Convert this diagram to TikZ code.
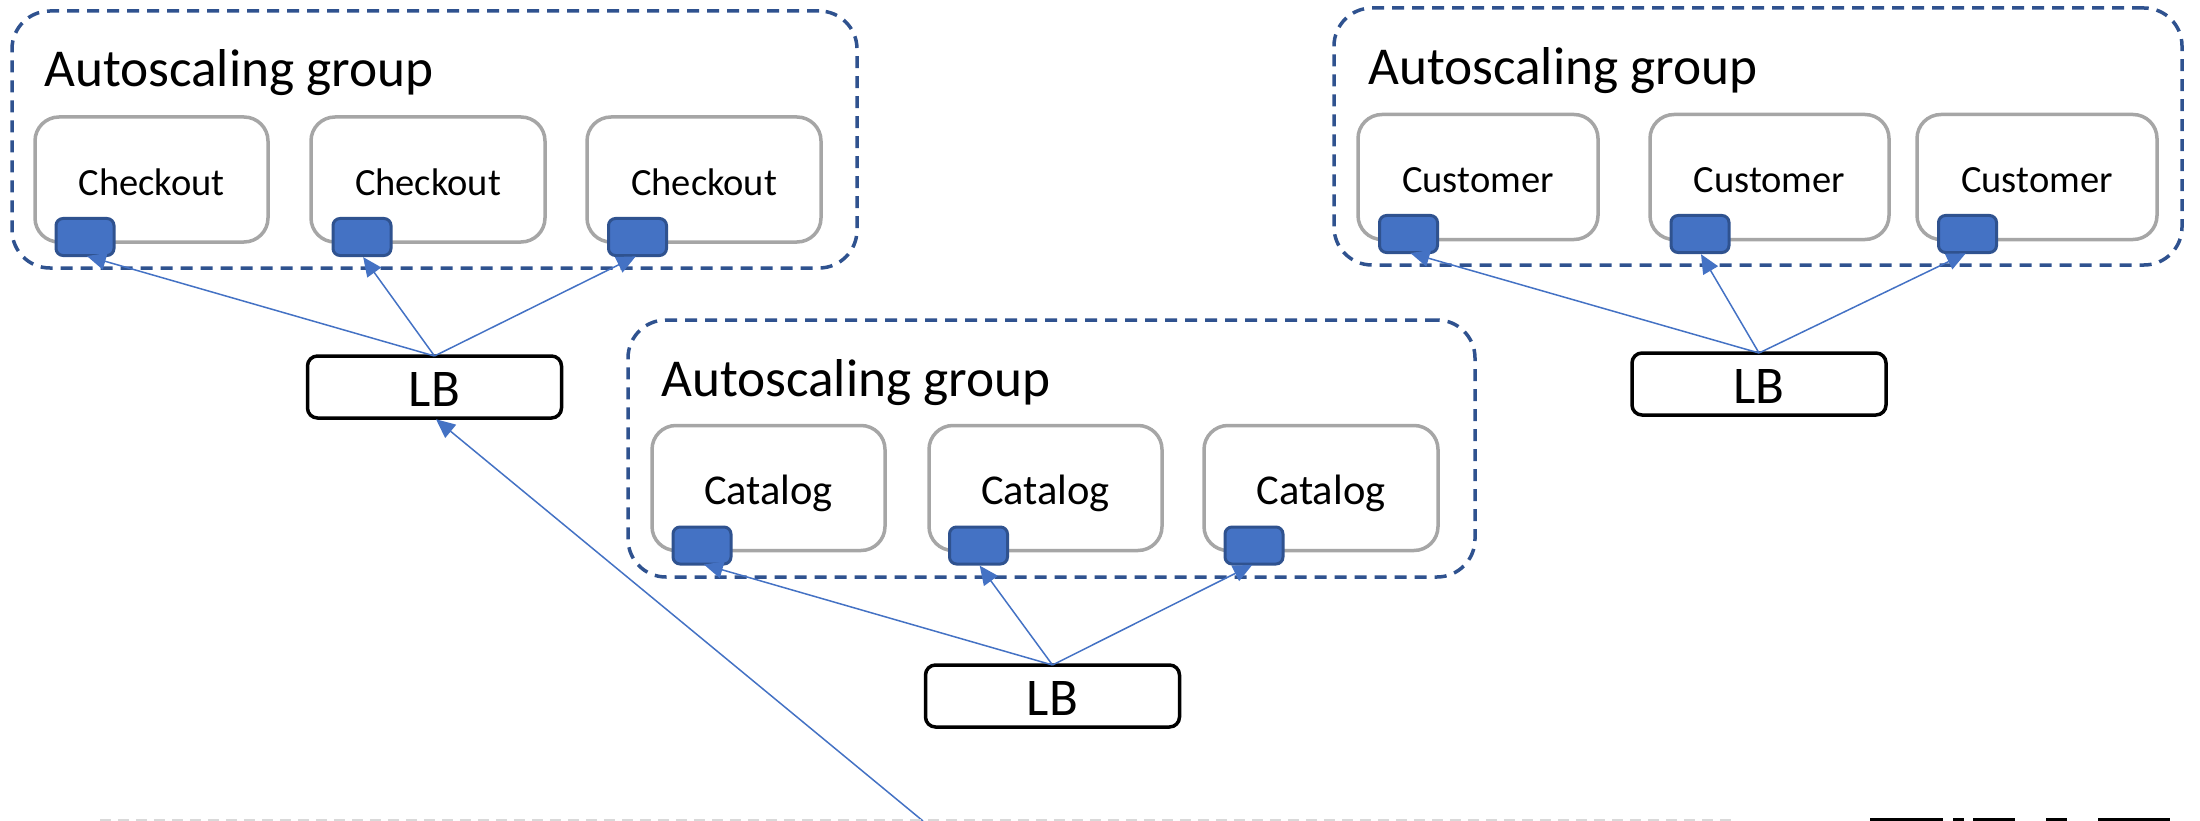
\documentclass[tikz,border=0pt]{standalone}
\usepackage{fontspec}
\setmainfont{Carlito}
\usetikzlibrary{arrows.meta}
\definecolor{blueA}{HTML}{4472C4}
\definecolor{blueB}{HTML}{2F528F}
\definecolor{grayA}{HTML}{A6A6A6}
\definecolor{grayB}{HTML}{D9D9D9}
\tikzset{
 groupbox/.style={draw=blueB,line width=3.5pt,dash pattern=on 12pt off 8pt,rounded corners=38pt,inner sep=0pt,outer sep=0pt},
 svc/.style={draw=grayA,fill=white,line width=3.5pt,rounded corners=24pt,inner sep=0pt,outer sep=0pt,font=\fontsize{38.5}{40}\selectfont,text height=32pt,text depth=0pt,minimum height=125pt},
 svcb/.style={svc,font=\fontsize{42.5}{44}\selectfont},
 port/.style={draw=blueB,fill=blueA,line width=3pt,rounded corners=7pt,inner sep=0pt,outer sep=0pt,minimum width=58pt,minimum height=37pt},
 lb/.style={draw=black,fill=white,line width=3.5pt,rounded corners=10pt,inner sep=0pt,outer sep=0pt,minimum width=254pt,minimum height=62pt,font=\fontsize{53}{55}\selectfont,text height=39pt,text depth=0pt},
 title/.style={anchor=base west,inner sep=0pt,font=\fontsize{53.3}{56}\selectfont},
 link/.style={draw=blueA,line width=1.5pt,-{Triangle[length=19pt,width=17pt]},shorten >=2pt},
 footdash/.style={draw=grayB,line width=2pt,dash pattern=on 11pt off 7pt},
 bar/.style={fill=black,inner sep=0pt,outer sep=0pt,minimum height=3pt,anchor=south west}
}
\begin{document}
\begin{tikzpicture}[x=1pt,y=-1pt]
\useasboundingbox (0,0) rectangle (2200,821);
\clip (0,0) rectangle (2200,821);
% groups
\node[groupbox,minimum width=845pt,minimum height=257pt] (g1) at (434.5,139.5) {};
\node[groupbox,minimum width=847pt,minimum height=257pt] (g2) at (1051.5,448.5) {};
\node[groupbox,minimum width=848pt,minimum height=257pt] (g3) at (1758,136.5) {};
\node[title] (t1) at (44,87) {Autoscaling group};
\node[title] (t2) at (661,396) {Autoscaling group};
\node[title] (t3) at (1368,85) {Autoscaling group};
% checkout
\node[svc,minimum width=233pt] (a1) at (151.5,179.5) {Checkout};
\node[svc,minimum width=234pt] (a2) at (428,179.5) {Checkout};
\node[svc,minimum width=234pt] (a3) at (704,179.5) {Checkout};
% catalog
\node[svcb,minimum width=233pt] (b1) at (768.5,488) {Catalog};
\node[svcb,minimum width=233pt] (b2) at (1045.5,488) {Catalog};
\node[svcb,minimum width=234pt] (b3) at (1321,488) {Catalog};
% customer
\node[svc,minimum width=240pt] (c1) at (1478,177) {Customer};
\node[svc,minimum width=239pt] (c2) at (1769.5,177) {Customer};
\node[svc,minimum width=240pt] (c3) at (2037,177) {Customer};
% ports
\node[port] (pa1) at (85,237) {};
\node[port] (pa2) at (362,237) {};
\node[port] (pa3) at (637.5,237) {};
\node[port] (pb1) at (702,545.5) {};
\node[port] (pb2) at (978.5,545.5) {};
\node[port] (pb3) at (1254,545.5) {};
\node[port] (pc1) at (1408.5,234) {};
\node[port] (pc2) at (1700,234) {};
\node[port] (pc3) at (1967.5,234) {};
% load balancers
\node[lb] (l1) at (434.5,387) {LB};
\node[lb] (l2) at (1052.5,696) {LB};
\node[lb] (l3) at (1759,384) {LB};
% connectors
\foreach \p in {pa1,pa2,pa3} \draw[link] (l1.north) -- (\p.south);
\foreach \p in {pb1,pb2,pb3} \draw[link] (l2.north) -- (\p.south);
\foreach \p in {pc1,pc2,pc3} \draw[link] (l3.north) -- (\p.south);
\coordinate (src) at (923,821);
\draw[link] (src) -- (l1.south);
% bottom edge
\coordinate (f1) at (100,820);
\coordinate (f2) at (1737,820);
\draw[footdash] (f1) -- (f2);
\node[bar,minimum width=73pt] (k1) at (1870,821) {};
\node[bar,minimum width=11pt] (k2) at (1953,821) {};
\node[bar,minimum width=42pt] (k3) at (1973,821) {};
\node[bar,minimum width=21pt] (k4) at (2046,821) {};
\node[bar,minimum width=72pt] (k5) at (2098,821) {};
\end{tikzpicture}
\end{document}
